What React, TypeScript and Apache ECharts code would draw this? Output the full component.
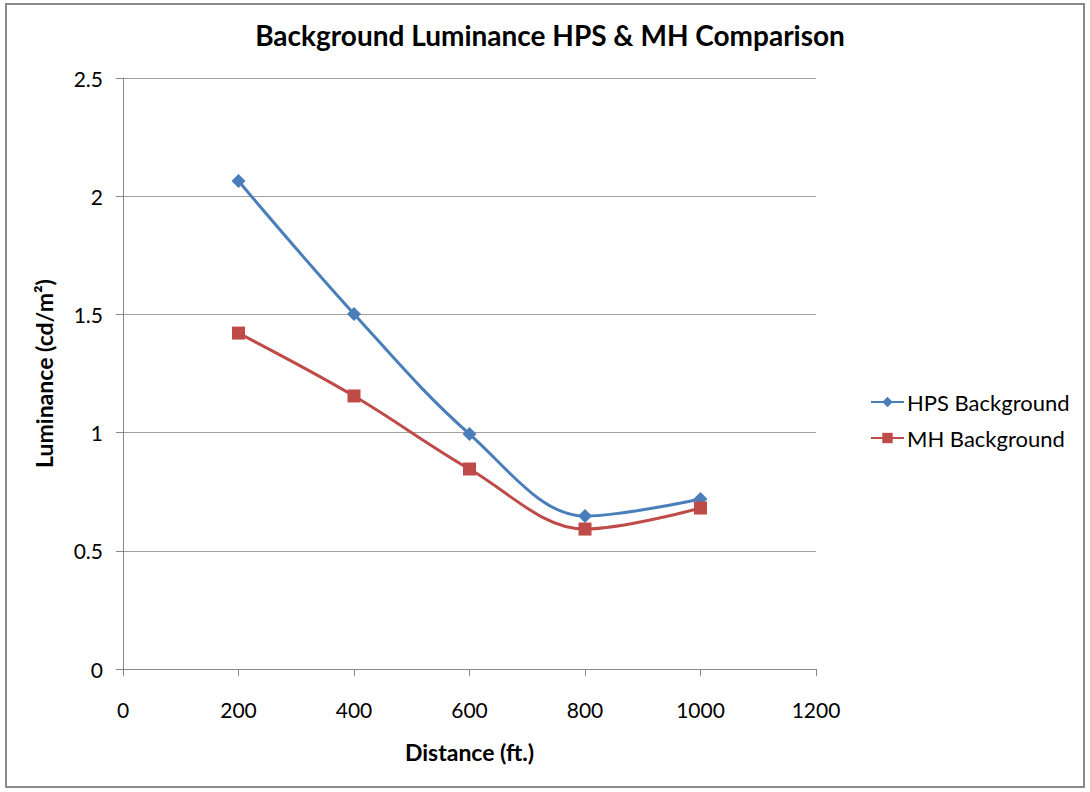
import React, { useEffect, useRef } from "react";
import * as echarts from "echarts";

const distances = [200, 400, 600, 800, 1000];
const hpsBackground = [2.064, 1.502, 0.994, 0.647, 0.719];
const mhBackground = [1.421, 1.155, 0.846, 0.592, 0.681];
const seriesNames = ["HPS Background", "MH Background"];
const titleText = "Background Luminance HPS & MH Comparison";
const xAxisTitle = "Distance (ft.)";
const yAxisTitle = "Luminance (cd/m²)";

const FONT = "Lato, 'Open Sans', sans-serif";

export default function App() {
  const ref = useRef<HTMLDivElement>(null);
  useEffect(() => {
    if (!ref.current) return;
    const chart = echarts.init(ref.current, null, { renderer: "svg" });
    const toPairs = (vals: number[]) => distances.map((d, i) => [d, vals[i]]);
    chart.setOption({
      animation: false,
      backgroundColor: "#ffffff",
      textStyle: { fontFamily: FONT },
      title: {
        text: titleText,
        left: 545,
        top: 16,
        textAlign: "center",
        textStyle: { fontFamily: FONT, fontSize: 28, fontWeight: "bold", color: "#000" },
      },
      legend: {
        orient: "vertical",
        left: 865,
        top: 386,
        itemGap: 14,
        itemWidth: 33,
        itemHeight: 13,
        textStyle: { fontFamily: FONT, fontSize: 22, color: "#000", padding: [0, 0, 0, -2] },
        data: seriesNames,
      },
      grid: { left: 123, right: 274, top: 78, bottom: 123, containLabel: false },
      xAxis: {
        type: "value",
        min: 0,
        max: 1200,
        interval: 200,
        name: xAxisTitle,
        nameLocation: "middle",
        nameGap: 71,
        nameTextStyle: { fontFamily: FONT, fontSize: 23, fontWeight: "bold", color: "#000" },
        axisLine: { show: true, lineStyle: { color: "#888", width: 1 } },
        axisTick: { show: true, length: 7, lineStyle: { color: "#888" } },
        axisLabel: {
          fontFamily: FONT,
          fontSize: 21,
          color: "#000",
          margin: 30,
          formatter: (v: number) => String(v),
        },
        splitLine: { show: false },
      },
      yAxis: {
        type: "value",
        min: 0,
        max: 2.5,
        interval: 0.5,
        name: yAxisTitle,
        nameLocation: "middle",
        nameGap: 68,
        nameRotate: 90,
        nameTextStyle: { fontFamily: FONT, fontSize: 23, fontWeight: "bold", color: "#000" },
        axisLine: { show: true, lineStyle: { color: "#888", width: 1 } },
        axisTick: { show: true, length: 7, lineStyle: { color: "#888" } },
        axisLabel: { fontFamily: FONT, fontSize: 21, color: "#000", margin: 20 },
        splitLine: { show: true, lineStyle: { color: "#a0a0a0", width: 1 } },
      },
      series: [
        {
          name: seriesNames[0],
          type: "line",
          data: toPairs(hpsBackground),
          smooth: 0.35,
          symbol: "diamond",
          symbolSize: 14,
          lineStyle: { color: "#4a7ebb", width: 3 },
          itemStyle: { color: "#4a7ebb" },
        },
        {
          name: seriesNames[1],
          type: "line",
          data: toPairs(mhBackground),
          smooth: 0.35,
          symbol: "rect",
          symbolSize: 13,
          lineStyle: { color: "#be4b48", width: 3 },
          itemStyle: { color: "#be4b48" },
        },
      ],
      graphic: [
        {
          type: "rect",
          shape: { x: 6, y: 4, width: 1078, height: 783 },
          style: { fill: "none", stroke: "#8a8a8a", lineWidth: 2 },
          silent: true,
        },
      ],
    });
    return () => chart.dispose();
  }, []);
  return (
    <div
      ref={ref}
      style={{ position: "fixed", left: 0, top: 0, width: 1090, height: 792 }}
    />
  );
}
